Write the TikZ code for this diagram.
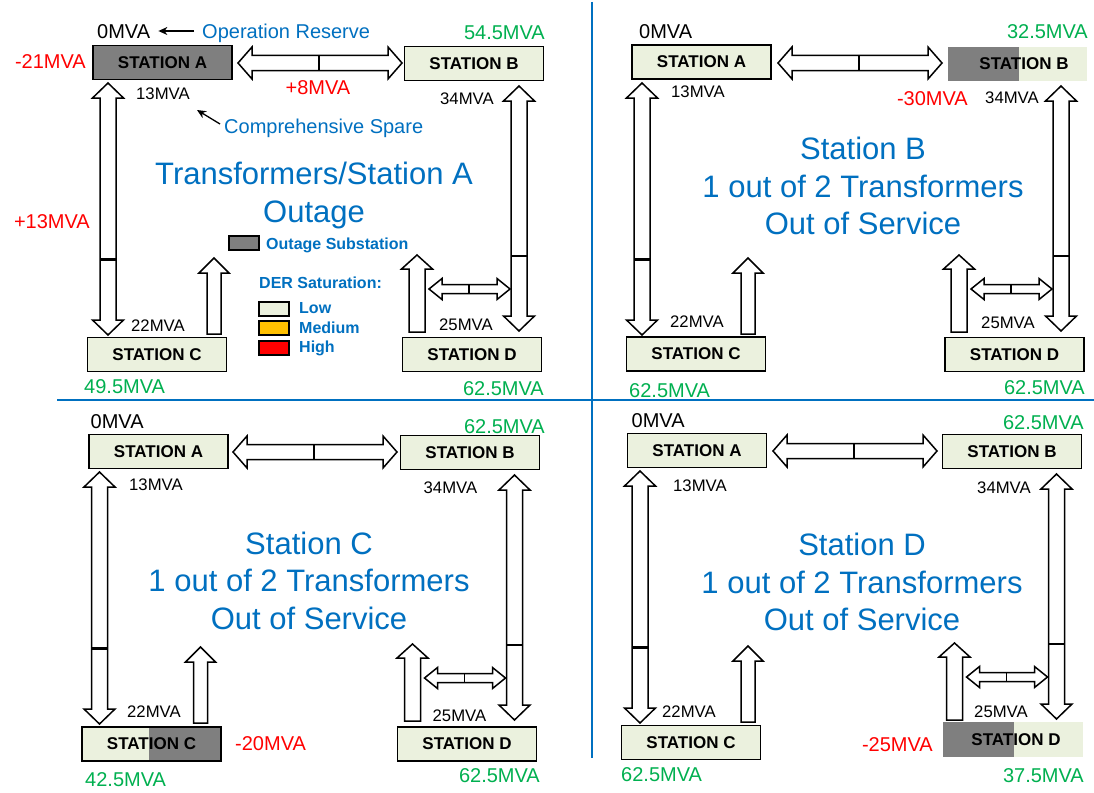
\documentclass[tikz,border=0pt]{standalone}
\usepackage{fontspec}
\setmainfont{Liberation Sans}
\usetikzlibrary{arrows.meta}
\definecolor{stfill}{HTML}{EBF1DE}
\definecolor{stgray}{HTML}{7F7F7F}
\definecolor{txtblue}{HTML}{0070C0}
\definecolor{txtred}{HTML}{FF0000}
\definecolor{txtgreen}{HTML}{00B050}
\definecolor{lgorange}{HTML}{FFC000}
\newcommand{\blkVD}[6]{%
 \draw[blockarrow] (#1,#2) -- ({#1+#5},{#2+#6}) -- ({#1+#4},{#2+#6}) -- ({#1+#4},{#3-#6}) -- ({#1+#5},{#3-#6}) -- (#1,#3) -- ({#1-#5},{#3-#6}) -- ({#1-#4},{#3-#6}) -- ({#1-#4},{#2+#6}) -- ({#1-#5},{#2+#6}) -- cycle;}
\newcommand{\blkHD}[6]{%
 \draw[blockarrow] (#1,#3) -- ({#1+#6},{#3-#5}) -- ({#1+#6},{#3-#4}) -- ({#2-#6},{#3-#4}) -- ({#2-#6},{#3-#5}) -- (#2,#3) -- ({#2-#6},{#3+#5}) -- ({#2-#6},{#3+#4}) -- ({#1+#6},{#3+#4}) -- ({#1+#6},{#3+#5}) -- cycle;}
\newcommand{\blkUp}[6]{%
 \draw[blockarrow] (#1,#2) -- ({#1+#5},{#2+#6}) -- ({#1+#4},{#2+#6}) -- ({#1+#4},#3) -- ({#1-#4},#3) -- ({#1-#4},{#2+#6}) -- ({#1-#5},{#2+#6}) -- cycle;}
% #1 shift of left vertical arrow, #2 shift of up arrow at C, #3 shift of top arrow,
% #4 shift of right-hand arrows, #5 vertical shift
\newcommand{\blkPanel}[5]{%
 \begin{scope}[shift={(#1,#5)}]
  \blkVD{108}{83}{335}{8}{15.5}{15}
  \draw[line width=3pt] (100,259) -- (116,259);
 \end{scope}
 \begin{scope}[shift={(#2,#5)}]
  \blkUp{214}{258}{334}{7}{15}{15}
 \end{scope}
 \begin{scope}[shift={(#3,#5)}]
  \blkHD{238}{402}{63}{7.5}{16}{14}
  \draw[line width=1.3pt] (319,55.5) -- (319,70.5);
 \end{scope}
 \begin{scope}[shift={(#4,#5)}]
  \blkVD{519}{86}{331}{8}{15.5}{15}
  \draw[line width=1.3pt] (511,256) -- (527,256);
  \blkUp{417}{255}{332}{8}{15.5}{14}
  \blkHD{429}{510}{289}{4.5}{10.5}{13}
  \draw[line width=1.3pt] (469,284.5) -- (469,293.5);
 \end{scope}}
\tikzset{
 blockarrow/.style={draw=black, fill=white, line width=1.5pt, line join=miter},
 station/.style={draw=black, line width=1.5pt, fill=stfill, minimum width=139pt, minimum height=34pt, inner sep=0pt, font=\bfseries\fontsize{17}{20}\selectfont},
 sttext/.style={inner sep=0pt, font=\bfseries\fontsize{17}{20}\selectfont},
 big/.style={inner sep=0pt, font=\fontsize{20}{24}\selectfont},
 sml/.style={inner sep=0pt, font=\fontsize{16.7}{20}\selectfont},
 redlbl/.style={big, text=txtred},
 greenlbl/.style={big, text=txtgreen},
 bluelbl/.style={big, text=txtblue},
 title/.style={inner sep=0pt, align=center, text=txtblue, font=\fontsize{31}{37.5}\selectfont},
 legtext/.style={inner sep=0pt, text=txtblue, font=\bfseries\fontsize{16}{19}\selectfont},
 legbox/.style={draw=black, line width=1.3pt, minimum width=30pt, minimum height=14pt, inner sep=0pt},
 ptr/.style={-{Stealth[length=9pt,width=8pt]}, line width=1.3pt},
 divider/.style={draw=txtblue, line width=2pt}
}
\begin{document}
\begin{tikzpicture}[x=1pt,y=-1pt]
\useasboundingbox (0,0) rectangle (1094,792);
\fill[white] (0,0) rectangle (1094,792);
% dividers
\draw[divider] (592,2) -- (592,758);
\draw[divider] (57,400) -- (1094,400);
% arrows in each panel
\blkPanel{0}{0}{0}{0}{0}
\blkPanel{534}{534}{540}{542}{0}
\blkPanel{-8.5}{-13.5}{-5}{-4.5}{389}
\blkPanel{532}{534}{535}{537.5}{388}
% ---------------- Panel 1
\node[station, fill=stgray] (p1a) at (162.5,62.5) {STATION A};
\node[station] (p1b) at (474,63.5) {STATION B};
\node[station] (p1c) at (157,354.5) {STATION C};
\node[station] (p1d) at (472,354.5) {STATION D};
\node[big, anchor=base west] (p1zero) at (97,38) {0MVA};
\node[bluelbl, anchor=base west] (p1opres) at (202,38) {Operation Reserve};
\draw[ptr] ([shift={(-8,-7)}]p1opres.base west) -- ([shift={(8,-7)}]p1zero.base east);
\node[redlbl, anchor=base east] (p1m21) at (86,68) {-21MVA};
\node[greenlbl, anchor=base east] (p1b54) at (545,40) {54.5MVA};
\node[redlbl, anchor=base] (p1p8) at (318,94) {+8MVA};
\node[sml, anchor=base west] (p1a13) at (136,99) {13MVA};
\node[sml, anchor=base west] (p1b34) at (440,104) {34MVA};
\node[bluelbl, anchor=base west] (p1cs) at (224,133) {Comprehensive Spare};
\coordinate (p1cstip) at (197,110);
\draw[ptr] ([shift={(-4,-9)}]p1cs.base west) -- (p1cstip);
\node[redlbl, anchor=base east] (p1p13) at (90,228) {+13MVA};
\node[title] (p1title) at (314,195.5) {Transformers/Station A\\Outage};
\node[legbox, fill=stgray] (p1lgout) at (244,243) {};
\node[legtext, anchor=base west] (p1lgoutt) at (266,249) {Outage Substation};
\node[legtext, anchor=base west] (p1der) at (259,288) {DER Saturation:};
\node[legbox, fill=stfill] (p1lglow) at (274,309) {};
\node[legbox, fill=lgorange] (p1lgmed) at (274,328) {};
\node[legbox, fill=txtred] (p1lghigh) at (274,348) {};
\node[legtext, anchor=base west] (p1lowt) at (299,313) {Low};
\node[legtext, anchor=base west] (p1medt) at (299,333) {Medium};
\node[legtext, anchor=base west] (p1hight) at (299,352) {High};
\node[sml, anchor=base west] (p1c22) at (131,331) {22MVA};
\node[sml, anchor=base west] (p1d25) at (439,330) {25MVA};
\node[greenlbl, anchor=base west] (p1c49) at (84,393) {49.5MVA};
\node[greenlbl, anchor=base east] (p1d62) at (544,395) {62.5MVA};
% ---------------- Panel 2
\node[station] (p2a) at (701.5,62) {STATION A};
\fill[stgray] (948,47) rectangle (1019,81);
\fill[stfill] (1019,47) rectangle (1087,81);
\node[sttext] (p2b) at (1024,64) {STATION B};
\node[station] (p2c) at (696,354) {STATION C};
\node[station] (p2d) at (1014.5,354.5) {STATION D};
\node[big, anchor=base west] (p2zero) at (639,39) {0MVA};
\node[greenlbl, anchor=base east] (p2b32) at (1088,39) {32.5MVA};
\node[redlbl, anchor=base east] (p2m30) at (968,105) {-30MVA};
\node[sml, anchor=base west] (p2a13) at (671,97) {13MVA};
\node[sml, anchor=base west] (p2b34) at (985,103) {34MVA};
\node[title] (p2title) at (863,186.2) {Station B\\1 out of 2 Transformers\\Out of Service};
\node[sml, anchor=base west] (p2c22) at (670,327) {22MVA};
\node[sml, anchor=base west] (p2d25) at (981,328) {25MVA};
\node[greenlbl, anchor=base west] (p2c62) at (629,397) {62.5MVA};
\node[greenlbl, anchor=base east] (p2d62) at (1085,394) {62.5MVA};
% ---------------- Panel 3
\node[station] (p3a) at (158.5,451.5) {STATION A};
\node[station] (p3b) at (470,452.5) {STATION B};
\fill[stfill] (82,727) rectangle (149,761);
\fill[stgray] (149,727) rectangle (221,761);
\draw[line width=1.5pt] (82,727) rectangle (221,761);
\node[sttext] (p3c) at (151.5,744) {STATION C};
\node[station] (p3d) at (467,744) {STATION D};
\node[big, anchor=base west] (p3zero) at (90.5,428) {0MVA};
\node[greenlbl, anchor=base east] (p3b62) at (545,433) {62.5MVA};
\node[sml, anchor=base west] (p3a13) at (129,490) {13MVA};
\node[sml, anchor=base west] (p3b34) at (423.5,493) {34MVA};
\node[title] (p3title) at (309,580.7) {Station C\\1 out of 2 Transformers\\Out of Service};
\node[sml, anchor=base west] (p3c22) at (127,717) {22MVA};
\node[sml, anchor=base west] (p3d25) at (432.5,721) {25MVA};
\node[redlbl, anchor=base west] (p3m20) at (235,750) {-20MVA};
\node[greenlbl, anchor=base west] (p3c42) at (85,786) {42.5MVA};
\node[greenlbl, anchor=base east] (p3d62) at (540,782) {62.5MVA};
% ---------------- Panel 4
\node[station] (p4a) at (697,450.5) {STATION A};
\node[station] (p4b) at (1012,451.5) {STATION B};
\node[station] (p4c) at (691,742.5) {STATION C};
\fill[stgray] (943,722) rectangle (1014,757);
\fill[stfill] (1014,722) rectangle (1083,757);
\node[sttext] (p4d) at (1016,739.5) {STATION D};
\node[big, anchor=base west] (p4zero) at (631.5,427) {0MVA};
\node[greenlbl, anchor=base east] (p4b62) at (1084,429) {62.5MVA};
\node[sml, anchor=base west] (p4a13) at (673,491) {13MVA};
\node[sml, anchor=base west] (p4b34) at (977,493) {34MVA};
\node[title] (p4title) at (862,582.2) {Station D\\1 out of 2 Transformers\\Out of Service};
\node[sml, anchor=base west] (p4c22) at (662,717) {22MVA};
\node[sml, anchor=base west] (p4d25) at (974,717) {25MVA};
\node[redlbl, anchor=base east] (p4m25) at (933,751) {-25MVA};
\node[greenlbl, anchor=base west] (p4c62) at (621,781) {62.5MVA};
\node[greenlbl, anchor=base east] (p4d37) at (1084,782) {37.5MVA};
\end{tikzpicture}
\end{document}
